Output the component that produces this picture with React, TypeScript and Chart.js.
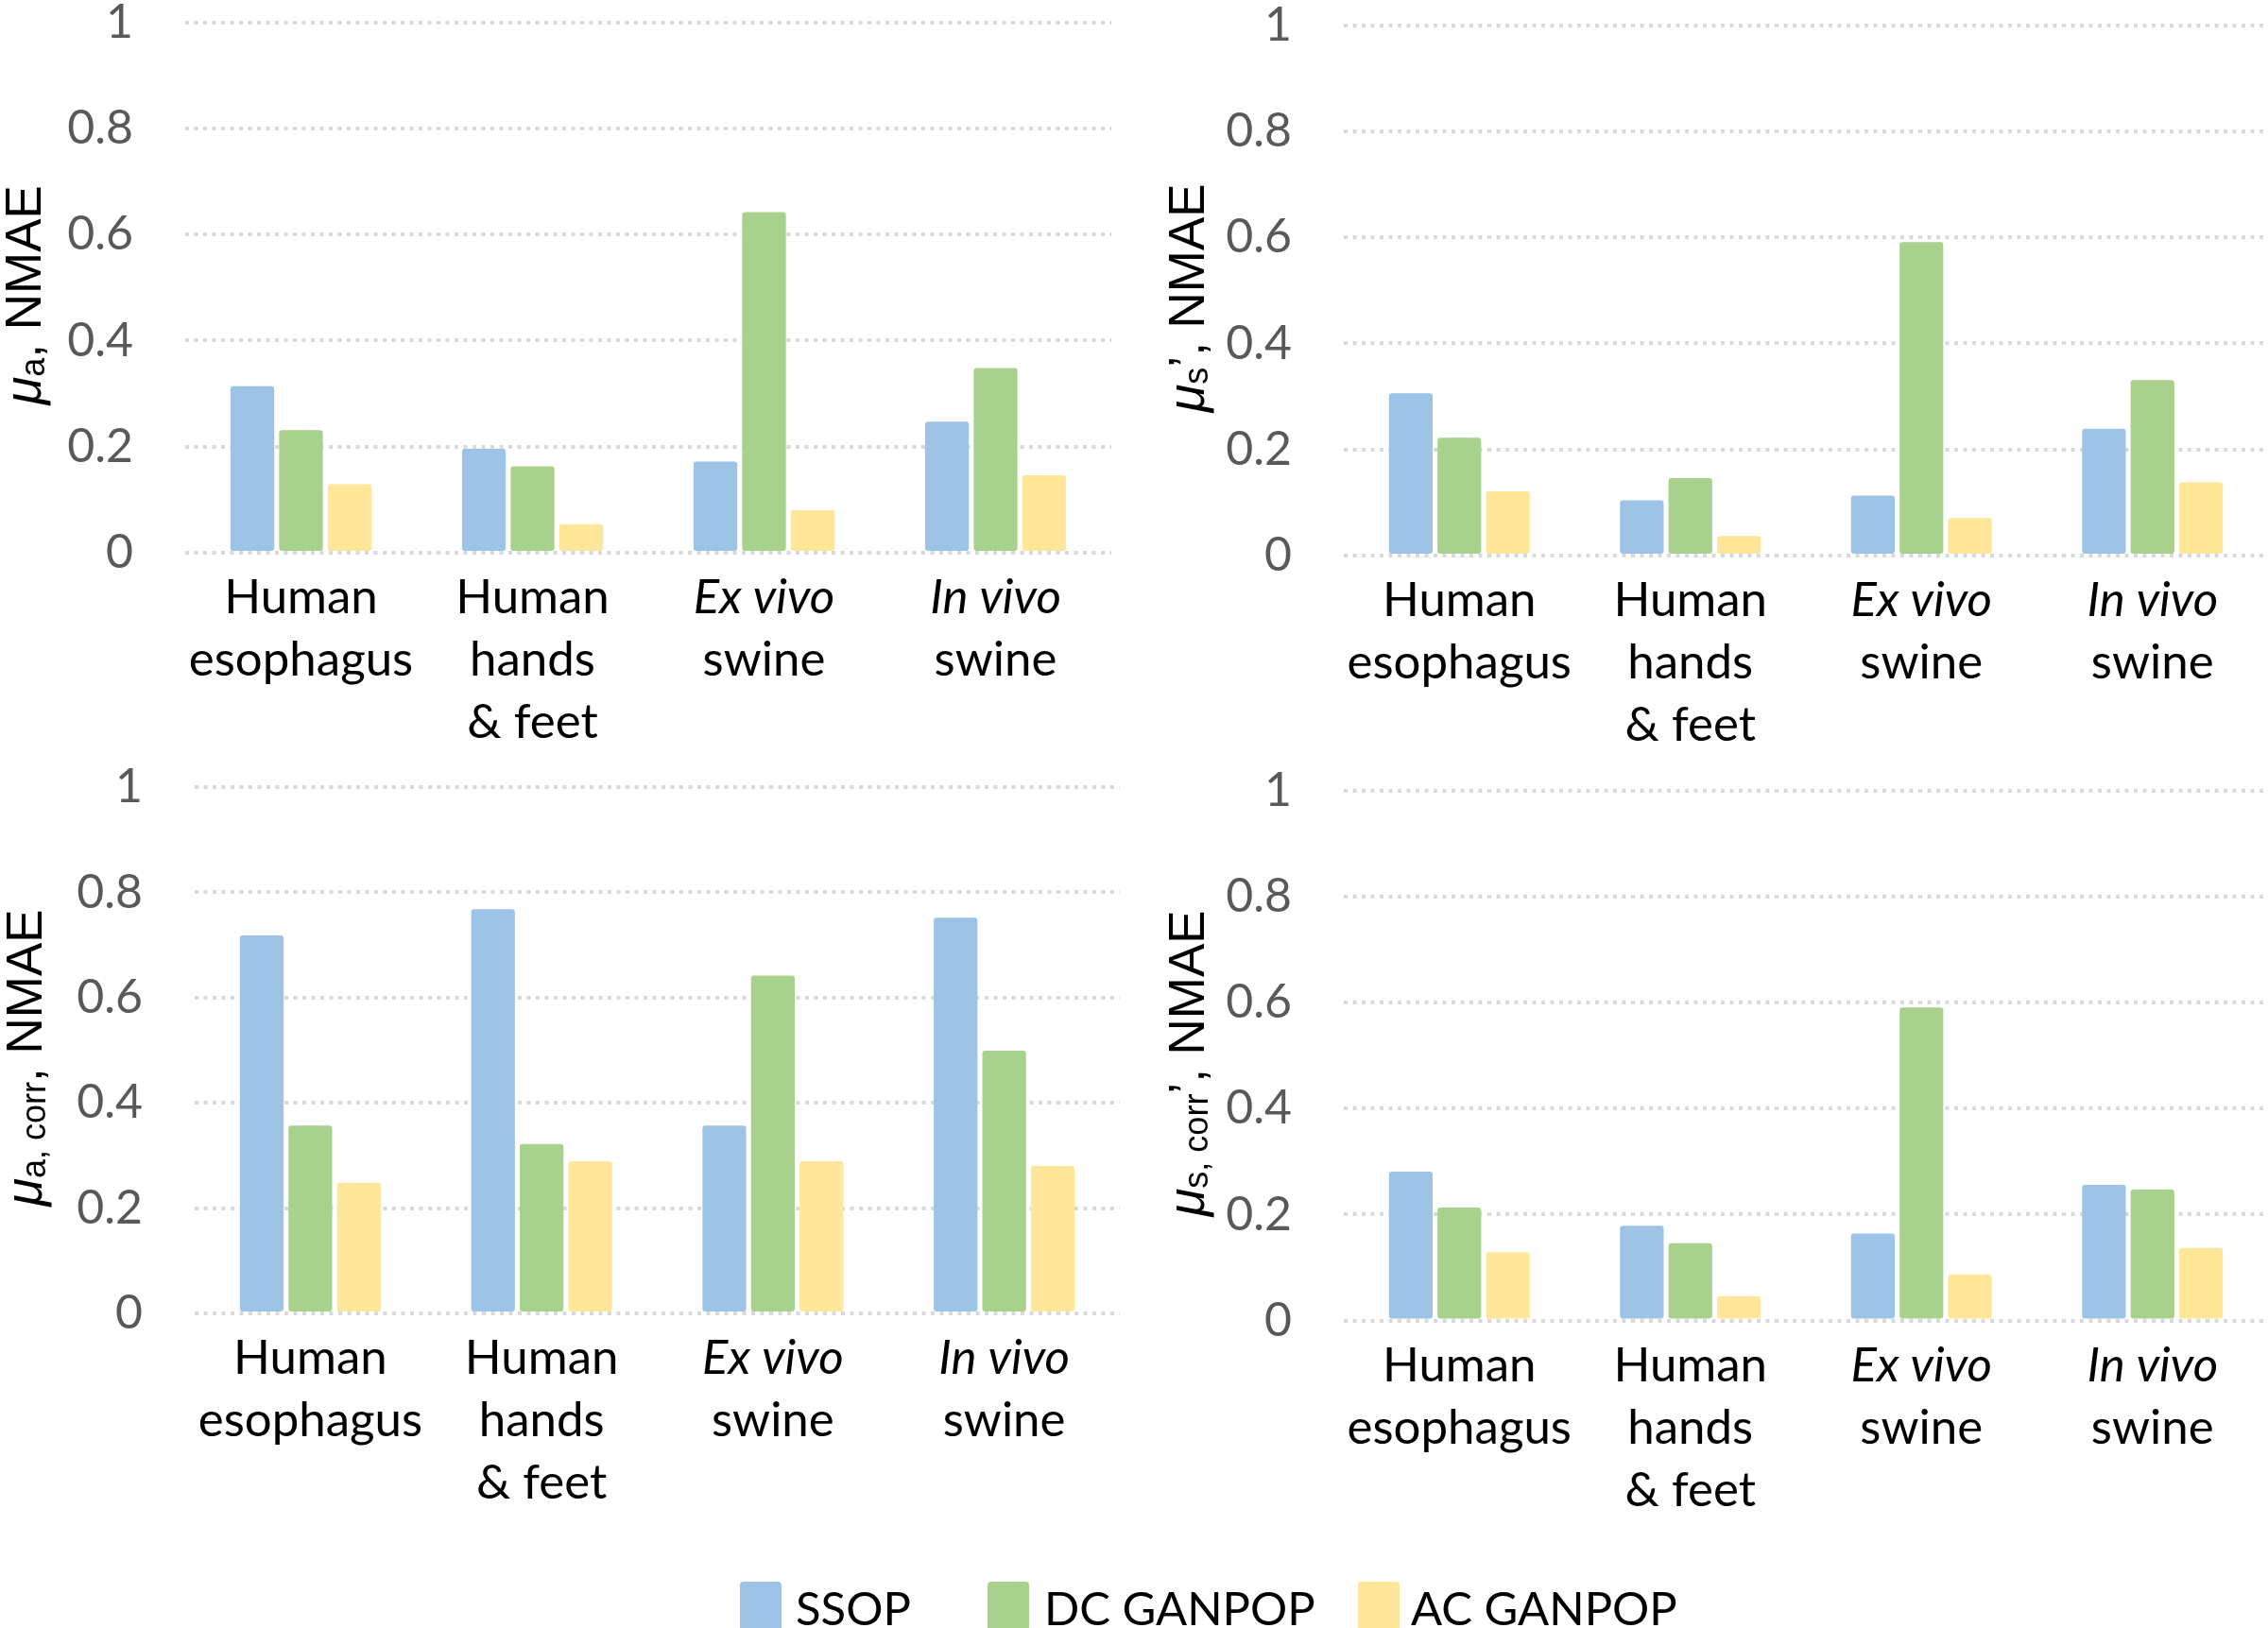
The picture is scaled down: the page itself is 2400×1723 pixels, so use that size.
import React, { useEffect, useRef } from "react";
import { Chart, registerables } from "chart.js";

Chart.register(...registerables);

// ---------- data ----------
const categories = ["Human esophagus", "Human hands & feet", "Ex vivo swine", "In vivo swine"];
const categoryLines = [
  ["Human", "esophagus"],
  ["Human", "hands", "& feet"],
  ["Ex vivo", "swine"],
  ["In vivo", "swine"],
];
const italicFirstLine = [false, false, true, true];

const seriesNames = ["SSOP", "DC GANPOP", "AC GANPOP"];
const seriesColors = ["#9DC3E6", "#A9D18E", "#FFE699"];

const muA_ssop = [0.314, 0.196, 0.172, 0.247];
const muA_dc = [0.231, 0.163, 0.642, 0.348];
const muA_ac = [0.129, 0.054, 0.08, 0.146];

const muS_ssop = [0.306, 0.104, 0.113, 0.239];
const muS_dc = [0.222, 0.146, 0.591, 0.331];
const muS_ac = [0.121, 0.037, 0.071, 0.138];

const muAcorr_ssop = [0.718, 0.768, 0.357, 0.752];
const muAcorr_dc = [0.357, 0.322, 0.642, 0.499];
const muAcorr_ac = [0.248, 0.289, 0.289, 0.28];

const muScorr_ssop = [0.281, 0.179, 0.164, 0.256];
const muScorr_dc = [0.213, 0.146, 0.591, 0.247];
const muScorr_ac = [0.129, 0.046, 0.087, 0.137];

const yMin = 0;
const yMax = 1;
const yStep = 0.2;

type Part = { text: string; kind: "mu" | "sub" | "main" };
const titleA: Part[] = [
  { text: "μ", kind: "mu" },
  { text: "a", kind: "sub" },
  { text: ", NMAE", kind: "main" },
];
const titleS: Part[] = [
  { text: "μ", kind: "mu" },
  { text: "s", kind: "sub" },
  { text: "’, NMAE", kind: "main" },
];
const titleAcorr: Part[] = [
  { text: "μ", kind: "mu" },
  { text: "a, corr", kind: "sub" },
  { text: ", NMAE", kind: "main" },
];
const titleScorr: Part[] = [
  { text: "μ", kind: "mu" },
  { text: "s, corr", kind: "sub" },
  { text: "’, NMAE", kind: "main" },
];

// ---------- layout ----------
type Panel = {
  left: number;
  top: number;
  w: number;
  h: number;
  area: { l: number; r: number; t: number; b: number };
  titleX: number;
  title: Part[];
  series: number[][];
};

const panels: Panel[] = [
  { left: 0, top: 0, w: 1200, h: 800, area: { l: 196, r: 1176, t: 23.5, b: 585 }, titleX: 43, title: titleA, series: [muA_ssop, muA_dc, muA_ac] },
  { left: 1200, top: 0, w: 1200, h: 800, area: { l: 222, r: 1200, t: 26.5, b: 588 }, titleX: 74, title: titleS, series: [muS_ssop, muS_dc, muS_ac] },
  { left: 0, top: 800, w: 1200, h: 923, area: { l: 206, r: 1185, t: 33, b: 590 }, titleX: 44, title: titleAcorr, series: [muAcorr_ssop, muAcorr_dc, muAcorr_ac] },
  { left: 1200, top: 800, w: 1200, h: 923, area: { l: 222, r: 1200, t: 37, b: 597.5 }, titleX: 74, title: titleScorr, series: [muScorr_ssop, muScorr_dc, muScorr_ac] },
];

const legendSquareX = [783, 1045, 1437];
const legendTextX = [842, 1105, 1493];

const xLabelPlugin = {
  id: "xLabels",
  afterDraw(chart: any) {
    const ctx = chart.ctx;
    const xs = chart.scales.x;
    const bottom = chart.chartArea.bottom;
    ctx.save();
    ctx.fillStyle = "#000000";
    ctx.textAlign = "center";
    ctx.textBaseline = "alphabetic";
    categoryLines.forEach((lines, i) => {
      const x = xs.getPixelForValue(i);
      lines.forEach((line, k) => {
        const italic = k === 0 && italicFirstLine[i];
        ctx.font = `${italic ? "italic " : ""}51px Lato`;
        ctx.fillText(line, x, bottom + 64 + k * 66);
      });
    });
    ctx.restore();
  },
};

const makeTitlePlugin = (parts: Part[], baselineX: number) => ({
  id: "yTitle",
  afterDraw(chart: any) {
    const ctx = chart.ctx;
    const { top, bottom } = chart.chartArea;
    const fonts: Record<string, string> = {
      mu: 'italic 54px "Liberation Sans"',
      sub: '36px "Liberation Sans"',
      main: '53px "Liberation Sans"',
    };
    ctx.save();
    const widths = parts.map((p) => {
      ctx.font = fonts[p.kind];
      return ctx.measureText(p.text).width;
    });
    const total = widths.reduce((a, b) => a + b, 0);
    const cy = (top + bottom) / 2 + 8;
    ctx.translate(baselineX, cy);
    ctx.rotate(-Math.PI / 2);
    ctx.fillStyle = "#000000";
    ctx.textAlign = "left";
    ctx.textBaseline = "alphabetic";
    let x = -total / 2;
    parts.forEach((p, i) => {
      ctx.font = fonts[p.kind];
      ctx.fillText(p.text, x, p.kind === "sub" ? 4 : 0);
      x += widths[i];
    });
    ctx.restore();
  },
});

function PanelChart({ panel }: { panel: Panel }) {
  const ref = useRef<HTMLCanvasElement | null>(null);
  useEffect(() => {
    if (!ref.current) return;
    const { w, h, area } = panel;
    const chart = new Chart(ref.current, {
      type: "bar",
      data: {
        labels: categories,
        datasets: seriesNames.map((name, i) => ({
          label: name,
          data: panel.series[i],
          backgroundColor: seriesColors[i],
          borderWidth: 0,
          borderRadius: 3,
          borderSkipped: false,
          categoryPercentage: 0.63,
          barPercentage: 0.9,
        })),
      },
      options: {
        responsive: false,
        maintainAspectRatio: false,
        animation: false,
        devicePixelRatio: 1,
        layout: { padding: { top: area.t, right: w - area.r, left: 0, bottom: 0 } },
        plugins: {
          legend: { display: false },
          tooltip: { enabled: false },
          title: { display: false },
        },
        scales: {
          x: {
            grid: { display: false },
            border: { display: false },
            ticks: { display: false },
            afterFit: (s: any) => {
              s.height = h - area.b;
            },
          },
          y: {
            min: yMin,
            max: yMax,
            ticks: {
              stepSize: yStep,
              padding: 0,
              color: "#595959",
              font: { family: "Lato", size: 50, lineHeight: 0.85 },
              callback: (v: any) => String(Math.round(Number(v) * 10) / 10),
            },
            grid: {
              color: "#D9D9D9",
              lineWidth: 4,
              drawTicks: true,
              tickLength: 55,
              tickWidth: 0,
              tickColor: "rgba(0,0,0,0)",
            },
            border: { display: false, dash: [4, 5.5] },
            afterFit: (s: any) => {
              s.width = area.l;
            },
          },
        },
      } as any,
      plugins: [xLabelPlugin, makeTitlePlugin(panel.title, panel.titleX)],
    });
    return () => chart.destroy();
  }, [panel]);
  return (
    <canvas
      ref={ref}
      width={panel.w}
      height={panel.h}
      style={{ position: "absolute", left: panel.left, top: panel.top, width: panel.w, height: panel.h }}
    />
  );
}

export default function App() {
  return (
    <div
      style={{
        position: "absolute",
        left: 0,
        top: 0,
        width: 2400,
        height: 1723,
        overflow: "hidden",
        background: "#ffffff",
      }}
    >
      {panels.map((p, i) => (
        <PanelChart key={i} panel={p} />
      ))}
      {seriesNames.map((name, i) => (
        <React.Fragment key={name}>
          <div
            style={{
              position: "absolute",
              left: legendSquareX[i],
              top: 1674,
              width: 44,
              height: 52,
              background: seriesColors[i],
              borderRadius: 4,
            }}
          />
          <div
            style={{
              position: "absolute",
              left: legendTextX[i],
              top: 1677,
              fontFamily: "Lato",
              fontSize: 49,
              lineHeight: "49px",
              color: "#000000",
              whiteSpace: "nowrap",
            }}
          >
            {name}
          </div>
        </React.Fragment>
      ))}
    </div>
  );
}
